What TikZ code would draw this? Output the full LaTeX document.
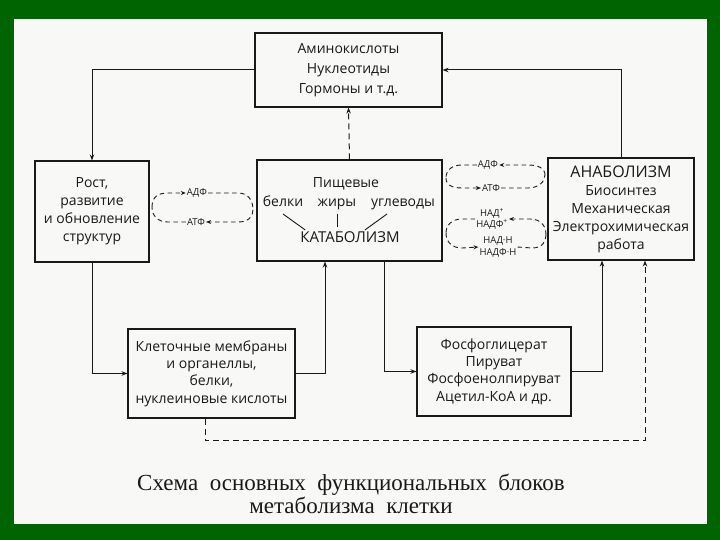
\documentclass[tikz,border=0pt]{standalone}
\usepackage{fontspec}
\setmainfont{Open Sans}
\newfontfamily\capfont{Liberation Serif}
\usetikzlibrary{arrows.meta,calc}
\definecolor{frame}{RGB}{0,100,0}
\definecolor{paper}{RGB}{248,248,246}
\definecolor{ink}{RGB}{25,25,25}
\begin{document}
\begin{tikzpicture}[x=1pt,y=-1pt,
  blockbox/.style={draw=ink,line width=1.1pt,inner sep=0pt,align=center,text=ink,font=\fontsize{14}{17.3}\selectfont},
  wordnode/.style={inner sep=1pt,anchor=base,text=ink,font=\fontsize{14}{17}\selectfont},
  conn/.style={draw=ink,line width=1pt,-{Stealth[length=6pt,width=4.5pt]}},
  dconn/.style={draw=ink,line width=1pt,dash pattern=on 6pt off 4pt,-{Stealth[length=6pt,width=4.5pt]}},
  dline/.style={draw=ink,line width=0.9pt,dash pattern=on 4.5pt off 3.5pt},
  dtip/.style={dline,-{Stealth[length=5pt,width=4pt]}},
  small/.style={inner sep=1pt,text=ink,align=center,font=\fontsize{9.5}{11.5}\selectfont}
]
\useasboundingbox (0,0) rectangle (720,540);
\fill[frame] (0,0) rectangle (720,540);
\fill[paper] (14,19) rectangle (707,524);

% blocks
\node[blockbox,minimum width=187pt,minimum height=74pt,font=\fontsize{14}{20}\selectfont] (top) at (348.5,70) {Аминокислоты\\Нуклеотиды\\Гормоны и т.д.};
\node[blockbox,minimum width=114pt,minimum height=101pt,font=\fontsize{14}{18}\selectfont] (rost) at (92,211.5) {Рост,\\развитие\\и обновление\\структур};
\node[blockbox,minimum width=185pt,minimum height=101pt] (kat) at (349.5,210.5) {};
\node[blockbox,minimum width=146pt,minimum height=102pt,font=\fontsize{14}{18}\selectfont] (anab) at (621,209) {{\fontsize{16}{18}\selectfont АНАБОЛИЗМ}\\Биосинтез\\Механическая\\Электрохимическая\\работа};
\node[blockbox,minimum width=167pt,minimum height=89pt] (klet) at (211.5,373.5) {Клеточные мембраны\\и органеллы,\\белки,\\нуклеиновые кислоты};
\node[blockbox,minimum width=154pt,minimum height=89pt] (fosf) at (494,371.5) {Фосфоглицерат\\Пируват\\Фосфоенолпируват\\Ацетил-КоА и др.};

% catabolism contents
\node[wordnode] (pish) at (346,188) {Пищевые};
\node[wordnode] (belki) at (283,207) {белки};
\node[wordnode] (zhiry) at (337,207) {жиры};
\node[wordnode] (ugl) at (403,207) {углеводы};
\node[wordnode,font=\fontsize{15}{17}\selectfont] (katab) at (350,243) {КАТАБОЛИЗМ};
\draw[ink,line width=0.9pt] ($(belki.base)+(0,7)$) -- ($(katab.north west)+(6,-1)$);
\draw[ink,line width=0.9pt] ($(zhiry.base)+(0,7)$) -- ($(zhiry.base)+(0,20)$);
\draw[ink,line width=0.9pt] ($(ugl.base)+(-16,7)$) -- ($(katab.north)+(15,-1)$);

% solid connectors
\draw[conn] (top.west) -| (rost.north);
\draw[conn] (anab.north) |- (top.east);
\draw[conn] (rost.south) |- (klet.west);
\draw[conn] (klet.east) -| ([xshift=-24.5pt]kat.south);
\draw[conn] ([xshift=34.5pt]kat.south) |- (fosf.west);
\draw[conn] (fosf.east) -| ([xshift=-19pt]anab.south);

% dashed connectors
\draw[dconn] (kat.north) -- (top.south);
\coordinate (dc1) at ($(klet.south)+(-6.5,22)$);
\draw[dconn] ([xshift=-6.5pt]klet.south) -- (dc1) -| ([xshift=24pt]anab.south);

% left loop (АДФ / АТФ)
\coordinate (lA) at (152,207);
\coordinate (lB) at (253,210);
\node[small] (adp1) at (197,193) {АДФ};
\node[small] (atp1) at (196,222) {АТФ};
\draw[dtip] (lA) .. controls (152,197) and (158,193) .. (168,193) -- (adp1.west);
\draw[dline] (adp1.east) -- (238,193) .. controls (248,193) and (253,200) .. (lB);
\draw[dtip] (lB) .. controls (253,217) and (248,222) .. (238,222) -- (atp1.east);
\draw[dline] (atp1.west) -- (168,222) .. controls (158,222) and (152,216) .. (lA);

% right upper loop
\coordinate (rA) at (446,178);
\coordinate (rB) at (545,175);
\node[small] (adp2) at (488,165) {АДФ};
\node[small] (atp2) at (491,188) {АТФ};
\draw[dtip] (rB) .. controls (545,168) and (538,165) .. (528,165) -- (adp2.east);
\draw[dline] (adp2.west) -- (462,165) .. controls (452,165) and (446,170) .. (rA);
\draw[dtip] (rA) .. controls (446,185) and (452,188) .. (462,188) -- (atp2.west);
\draw[dline] (atp2.east) -- (528,188) .. controls (538,188) and (545,182) .. (rB);

% right lower loop
\coordinate (sA) at (446,233);
\coordinate (sB) at (546,235);
\node[small] (nad1) at (492,219) {НАД\textsuperscript{+}\\НАДФ\textsuperscript{+}};
\node[small] (nad2) at (498,247) {НАД·Н\\НАДФ·Н};
\draw[dtip] (sB) .. controls (546,225) and (540,219) .. (530,219) -- (nad1.east);
\draw[dline] (nad1.west) -- (462,219) .. controls (452,219) and (446,225) .. (sA);
\draw[dtip] (sA) .. controls (446,242) and (452,248) .. (462,248) -- (nad2.west);
\draw[dline] (nad2.east) -- (532,248) .. controls (542,248) and (546,242) .. (sB);

% caption
\node[text=ink,align=center,font=\capfont\fontsize{23}{23}\selectfont] (cap) at (351,494) {Схема\ \ основных\ \ функциональных\ \ блоков\\метаболизма\ \ клетки};
\end{tikzpicture}
\end{document}
